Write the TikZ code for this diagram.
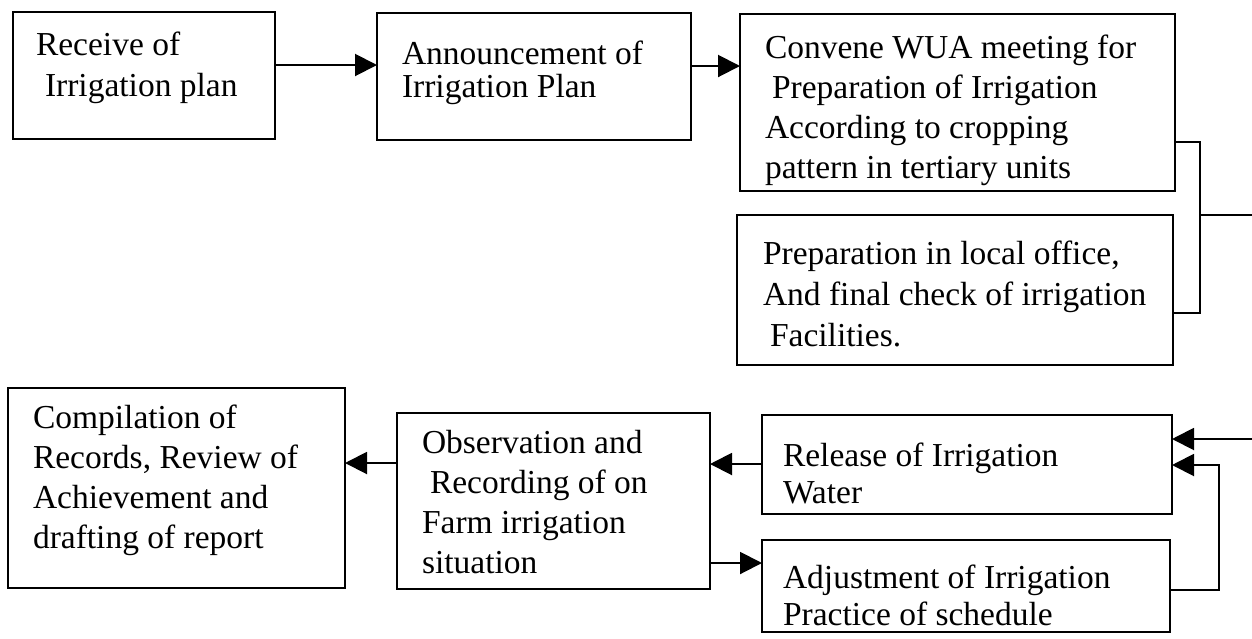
\documentclass[tikz,border=0pt]{standalone}
\usepackage{fontspec}
\setmainfont{Liberation Serif}
\usetikzlibrary{arrows.meta}
\tikzset{
  box/.style={draw, line width=2pt, rectangle, inner sep=0pt, outer sep=0pt, anchor=north west},
  txt/.style={anchor=north west, inner sep=0pt, outer sep=0pt, align=left, font=\fontsize{33.5}{#1}\selectfont},
  txt/.default=38,
  conn/.style={line width=2pt},
  arr/.style={line width=2pt, -{Triangle[length=22pt,width=22pt]}}
}
\newcommand{\fs}{\rule{0pt}{26pt}}
\begin{document}
\begin{tikzpicture}[x=1pt,y=-1pt]
\useasboundingbox (0,0) rectangle (1252,638);
% boxes
\node[box, minimum width=262pt, minimum height=127pt] (b1) at (13,12) {};
\node[box, minimum width=314pt, minimum height=127pt] (b2) at (377,13) {};
\node[box, minimum width=435pt, minimum height=177pt] (b3) at (740,14) {};
\node[box, minimum width=436pt, minimum height=150pt] (b4) at (737,215) {};
\node[box, minimum width=337pt, minimum height=200pt] (b5) at (8,388) {};
\node[box, minimum width=313pt, minimum height=176pt] (b6) at (397,413) {};
\node[box, minimum width=410pt, minimum height=99pt] (b7) at (762,415) {};
\node[box, minimum width=408pt, minimum height=92pt] (b8) at (762,540) {};
% texts
\node[txt=41] (t1) at (36,55-26) {\fs Receive of\\\hspace*{9pt}Irrigation plan};
\node[txt=33] (t2) at (402,64-26) {\fs Announcement of\\Irrigation Plan};
\node[txt=40] (t3) at (765,58-26) {\fs Convene WUA meeting for\\\hspace*{7pt}Preparation of Irrigation\\According to cropping\\pattern in tertiary units};
\node[txt=41] (t4) at (763,264-26) {\fs Preparation in local office,\\And final check of irrigation\\\hspace*{7pt}Facilities.};
\node[txt=40] (t5) at (33,428-26) {\fs Compilation of\\Records, Review of\\Achievement and\\drafting of report};
\node[txt=40] (t6) at (422,453-26) {\fs Observation and\\\hspace*{8pt}Recording of on\\Farm irrigation\\situation};
\node[txt=37] (t7) at (783,466-26) {\fs Release of Irrigation\\Water};
\node[txt=37] (t8) at (783,588-26) {\fs Adjustment of Irrigation\\Practice of schedule};
% connectors
\draw[arr] (b1.east |- 0,65) -- (b2.west |- 0,65);
\draw[arr] (b2.east |- 0,66) -- (b3.west |- 0,66);
\coordinate (j) at (1200,215);
\coordinate (outA) at (1252,215);
\coordinate (inB) at (1252,439);
\draw[conn] (b3.east |- 0,142) -- (j |- 0,142) -- (j |- 0,313) -- (b4.east |- 0,313);
\draw[conn] (j) -- (outA);
\draw[arr] (inB) -- (b7.east |- inB);
\draw[arr] (b8.east |- 0,590) -- (1219,590) -- (1219,465) -- (b7.east |- 0,465);
\draw[arr] (b7.west |- 0,464) -- (b6.east |- 0,464);
\draw[arr] (b6.west |- 0,463) -- (b5.east |- 0,463);
\draw[arr] (b6.east |- 0,563) -- (b8.west |- 0,563);
\end{tikzpicture}
\end{document}
